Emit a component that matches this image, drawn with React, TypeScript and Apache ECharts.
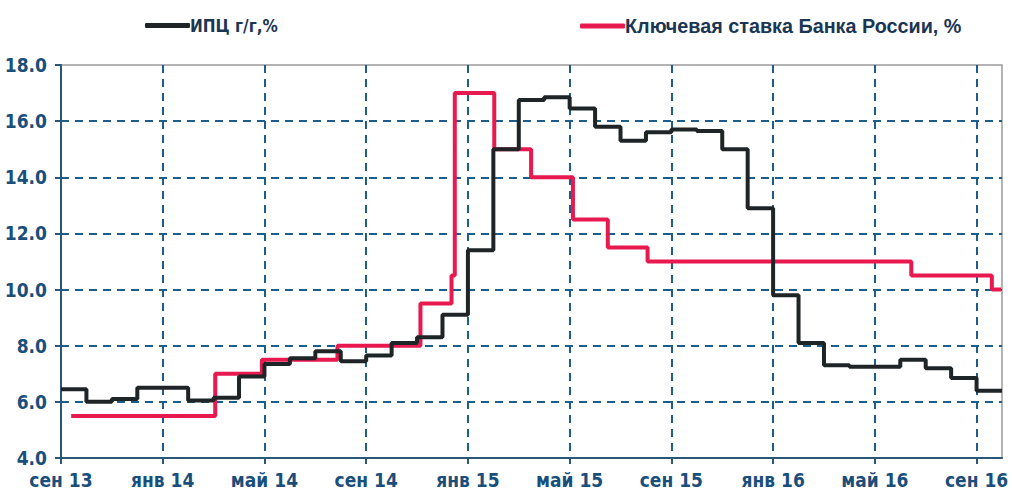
import React, { useEffect, useRef } from "react";
import * as echarts from "echarts";

// Month index 0 = сен 13 ... 36 = сен 16
const xTickLabels = ["сен 13", "янв 14", "май 14", "сен 14", "янв 15", "май 15", "сен 15", "янв 16", "май 16", "сен 16"];

// ИПЦ г/г, % — value held during each month (index 0..36)
const cpiValues = [
  6.45, 6.0, 6.1, 6.5, 6.5, 6.05, 6.15, 6.9, 7.35, 7.55, 7.8, 7.45, 7.65, 8.1, 8.3, 9.1, 11.4,
  15.0, 16.75, 16.85, 16.45, 15.8, 15.3, 15.6, 15.7, 15.65, 15.0, 12.9, 9.8, 8.1, 7.3, 7.25,
  7.25, 7.5, 7.2, 6.85, 6.4,
];

// Ключевая ставка Банка России, % — change dates
const keyRateDates = [
  "2013-09-13", "2014-03-03", "2014-04-28", "2014-07-28", "2014-11-05", "2014-12-12", "2014-12-16",
  "2015-02-02", "2015-03-16", "2015-05-05", "2015-06-16", "2015-08-03", "2016-06-14", "2016-09-19", "2016-09-30",
];
const keyRateValues = [5.5, 7.0, 7.5, 8.0, 9.5, 10.5, 17.0, 15.0, 14.0, 12.5, 11.5, 11.0, 10.5, 10.0, 10.0];

const NARROW = "'Liberation Sans Narrow', 'DejaVu Sans Condensed', Arial, sans-serif";
const WIDE = "'Liberation Sans', Arial, sans-serif";
const BLUE = "#1a4f7c";
const GRID = "#1d5d8c";

function monthPos(d: string): number {
  const [y, m, day] = d.split("-").map(Number);
  const dim = new Date(y, m, 0).getDate();
  return (y - 2013) * 12 + (m - 9) + (day - 1) / dim;
}

export default function App() {
  const ref = useRef<HTMLDivElement>(null);
  useEffect(() => {
    if (!ref.current) return;
    const chart = echarts.init(ref.current, undefined, { renderer: "svg" });
    const cpiData = cpiValues.map((v, i) => [i, v]);
    cpiData.push([cpiValues.length, cpiValues[cpiValues.length - 1]]);
    const rateData = keyRateDates.map((d, i) => [monthPos(d), keyRateValues[i]]);
    chart.setOption({
      animation: false,
      grid: { left: 61, right: 10, top: 65, bottom: 36, show: true, borderColor: "#9a9a9a", borderWidth: 1.5 },
      legend: [
        {
          left: 140,
          top: 12,
          data: ["ИПЦ г/г,%"],
          icon: "roundRect",
          itemWidth: 45,
          itemHeight: 5,
          textStyle: { fontFamily: NARROW, fontWeight: "bold", fontSize: 17, color: "#1b3653", padding: [0, 0, 0, -5] },
        },
        {
          left: 575,
          top: 11,
          data: ["Ключевая ставка Банка России, %"],
          icon: "roundRect",
          itemWidth: 45,
          itemHeight: 5,
          textStyle: { fontFamily: WIDE, fontWeight: "bold", fontSize: 19.8, color: "#1b3653", padding: [0, 0, 0, -5] },
        },
      ],
      xAxis: {
        type: "value",
        min: 0,
        max: 37,
        interval: 4,
        axisLine: { show: true, lineStyle: { color: "#2b5777", width: 2 } },
        axisTick: { show: true, length: 6, lineStyle: { color: "#2b5777", width: 2 } },
        axisLabel: {
          formatter: (v: number) => (v % 4 === 0 && v / 4 < xTickLabels.length ? xTickLabels[v / 4] : ""),
          fontFamily: NARROW,
          fontWeight: "bold",
          fontSize: 19,
          color: BLUE,
          margin: 12,
          showMaxLabel: false,
        },
        splitLine: { show: true, showMinLine: false, showMaxLine: false, lineStyle: { color: GRID, type: [8, 6], width: 2 } },
      },
      yAxis: {
        type: "value",
        min: 4,
        max: 18,
        interval: 2,
        axisLine: { show: true, lineStyle: { color: "#2b5777", width: 2 } },
        axisTick: { show: true, length: 6, lineStyle: { color: "#2b5777", width: 2 } },
        axisLabel: {
          formatter: (v: number) => v.toFixed(1),
          fontFamily: NARROW,
          fontWeight: "bold",
          fontSize: 19,
          color: BLUE,
          margin: 14,
        },
        splitLine: { show: true, showMinLine: false, showMaxLine: false, lineStyle: { color: GRID, type: [8, 6], width: 2 } },
      },
      series: [
        {
          name: "ИПЦ г/г,%",
          type: "line",
          step: "end",
          data: cpiData,
          symbol: "none",
          color: "#1f2427",
          lineStyle: { color: "#1f2427", width: 4 },
          z: 3,
        },
        {
          name: "Ключевая ставка Банка России, %",
          type: "line",
          step: "end",
          data: rateData,
          symbol: "none",
          color: "#e8194f",
          lineStyle: { color: "#e8194f", width: 4 },
          z: 2,
        },
      ],
    });
    return () => chart.dispose();
  }, []);
  return <div ref={ref} style={{ position: "fixed", left: 0, top: 0, width: 1012, height: 494, background: "#fff" }} />;
}
